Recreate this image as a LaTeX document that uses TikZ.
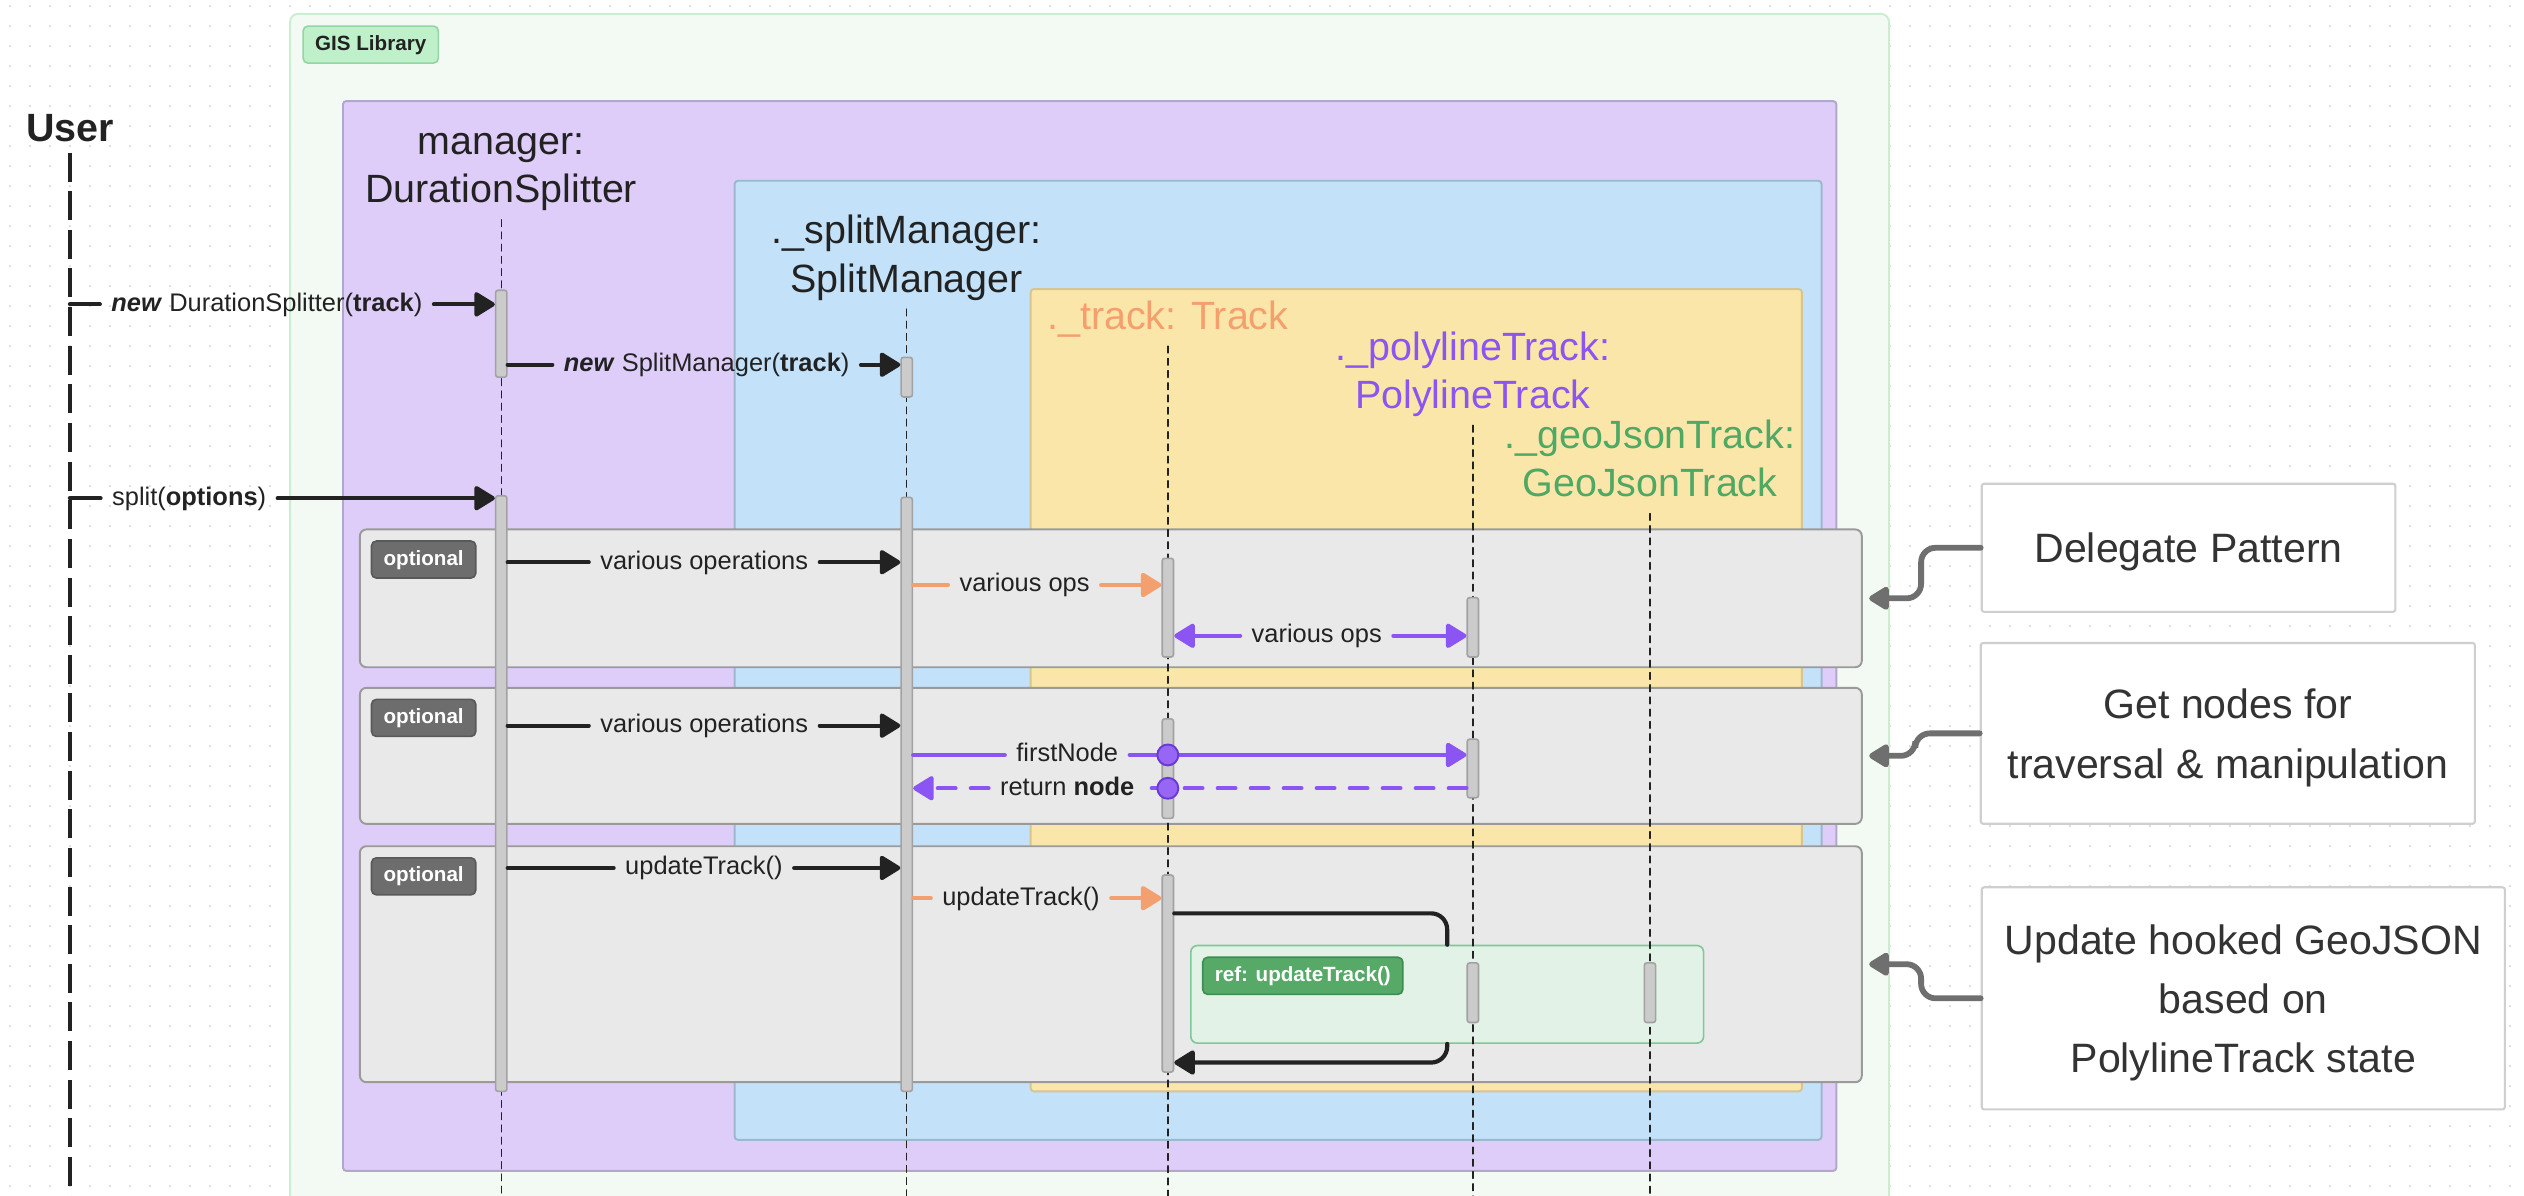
\documentclass[tikz,border=0pt]{standalone}
\usepackage{fontspec}
\setmainfont{Liberation Sans}
\usetikzlibrary{arrows.meta,positioning,patterns.meta}

\definecolor{ink}{HTML}{222222}
\definecolor{dotgray}{HTML}{CFCFCF}
\definecolor{gisfill}{HTML}{F3FAF3}
\definecolor{gisline}{HTML}{CBEED3}
\definecolor{gistag}{HTML}{BEF0CA}
\definecolor{gistagline}{HTML}{92D6A3}
\definecolor{mgrfill}{HTML}{DFCDF9}
\definecolor{mgrline}{HTML}{B3A6CB}
\definecolor{splfill}{HTML}{C3E2F9}
\definecolor{splline}{HTML}{9DB7CC}
\definecolor{trkfill}{HTML}{FBE6A9}
\definecolor{trkline}{HTML}{D6C590}
\definecolor{optfill}{HTML}{E9E9E9}
\definecolor{optline}{HTML}{9A9A9A}
\definecolor{opttag}{HTML}{6D6D6D}
\definecolor{opttagline}{HTML}{595959}
\definecolor{actfill}{HTML}{CBCBCB}
\definecolor{actline}{HTML}{A2A2A2}
\definecolor{orng}{HTML}{F4A06E}
\definecolor{polyc}{HTML}{8B55F3}
\definecolor{polydark}{HTML}{6A3AD6}
\definecolor{geoc}{HTML}{4FA864}
\definecolor{reffill}{HTML}{E2F2E6}
\definecolor{refline}{HTML}{7FC897}
\definecolor{reftag}{HTML}{56A967}
\definecolor{reftagline}{HTML}{3E8C50}
\definecolor{notetext}{HTML}{333333}
\definecolor{noteline}{HTML}{CFCFCF}
\definecolor{hookc}{HTML}{6F6F6F}

\tikzdeclarepattern{
  name=dotgrid,
  type=colored,
  bounding box={(0pt,0pt) and (12.35pt,12.35pt)},
  tile size={(12.35pt,12.35pt)},
  code={\fill[dotgray] (6.2pt,6.2pt) circle (0.65pt);}
}

\newcommand{\notetop}{\rule{0pt}{24pt}}

\begin{document}
\begin{tikzpicture}[x=1pt,y=-1pt,line cap=round,
                    >={Triangle[length=14pt,width=16.5pt,round]},
  box/.style={line width=1.2pt,rounded corners=2pt},
  title/.style={font=\fontsize{24.5}{30}\selectfont,align=center,text=ink},
  msg/.style={font=\fontsize{15.8}{19}\selectfont,text=ink,inner xsep=7pt,
              inner ysep=0pt,text height=12pt,text depth=3.5pt},
  tagbox/.style={font=\bfseries\fontsize{12.8}{15}\selectfont,text=white,
                 rounded corners=3pt,line width=1pt,minimum height=23pt,
                 inner xsep=7.5pt,text height=9.5pt,text depth=2.7pt},
  optframe/.style={draw=optline,fill=optfill,line width=1.2pt,rounded corners=4pt,
                   anchor=north west,inner sep=0pt,minimum width=933pt},
  life/.style={ink,line width=0.9pt,dash pattern=on 4.2pt off 3.4pt},
  act/.style={draw=actline,fill=actfill,line width=1pt,rounded corners=1.5pt,
              minimum width=7pt,inner sep=0pt},
  msgline/.style={ink,line width=2.6pt},
  call/.style={msgline,->},
  oline/.style={orng,line width=2.6pt},
  ocall/.style={oline,->},
  pline/.style={polyc,line width=2.6pt},
  pcall/.style={pline,->},
  pdash/.style={dash pattern=on 11pt off 9.5pt},
  pmark/.style={circle,fill=polyc!90!white,draw=polydark,line width=1.2pt,
                minimum size=13pt,inner sep=0pt},
  note/.style={draw=noteline,fill=white,line width=1.3pt,rounded corners=1.5pt,
               font=\fontsize{25.5}{36.8}\selectfont,text=notetext,align=center},
  hookline/.style={draw=hookc,line width=3.6pt,rounded corners=9pt,
                   -{Triangle[length=14pt,width=16pt,round]}}]

  \useasboundingbox (0,0) rectangle (1568,743);
  \fill[pattern=dotgrid] (0,0) rectangle (1568,743);

  \coordinate (gisNW) at (180.2,8.6);
  \draw[box,fill=gisfill,draw=gisline,rounded corners=5pt] (gisNW) rectangle (1173.5,760);
  \draw[box,fill=mgrfill,draw=mgrline] (213.1,62.8) rectangle (1140.8,727.4);
  \draw[box,fill=splfill,draw=splline] (456.4,112.3) rectangle (1131.6,708.1);
  \draw[box,fill=trkfill,draw=trkline] (640.3,179.6) rectangle (1119.4,678);

  \coordinate (bottom) at (0,745);
  \node[font=\bfseries\fontsize{24.5}{30}\selectfont,text=ink] (user) at (43.4,79.3) {User};
  \node[title]            (mgrT) at (311.4,105)  {manager:\strut\\DurationSplitter\strut};
  \node[title]            (splT) at (563.3,160.5) {.\_splitManager:\strut\\SplitManager\strut};
  \node[title,text=orng]  (trkT) at (725.5,198.5) {.\_track: Track\strut};
  \node[title,text=polyc] (polT) at (915,232.7)  {.\_polylineTrack:\strut\\PolylineTrack\strut};
  \node[title,text=geoc]  (geoT) at (1025,287.5) {.\_geoJsonTrack:\strut\\GeoJsonTrack\strut};

  \node[optframe,minimum height=85.6pt]  (f1) at (223,328.3) {};
  \node[optframe,minimum height=84.5pt]  (f2) at (223,426.7) {};
  \node[optframe,minimum height=146.6pt] (f3) at (223,525.1) {};
  \node[draw=refline,fill=reffill,line width=1pt,rounded corners=4pt,anchor=north west,
        inner sep=0pt,minimum width=318.5pt,minimum height=60.6pt] (ref) at (739.3,586.9) {};

  \draw[ink,line width=2.6pt,dash pattern=on 18pt off 6pt,line cap=butt]
        ([yshift=-3.4pt]user.south) -- (user.south |- bottom);
  \draw[life] ([yshift=2pt]mgrT.south) -- (mgrT.south |- bottom);
  \draw[life] ([yshift=2pt]splT.south) -- (splT.south |- bottom);
  \draw[life] ([yshift=2pt]trkT.south) -- (trkT.south |- bottom);
  \draw[life] ([yshift=2pt]polT.south) -- (polT.south |- bottom);
  \draw[life] ([yshift=2pt]geoT.south) -- (geoT.south |- bottom);

  \node[tagbox,fill=gistag,draw=gistagline,text=ink,below right=7.1pt and 7.6pt of gisNW] (gis) {GIS Library};
  \node[tagbox,fill=opttag,draw=opttagline,below right=7.3pt and 7.3pt of f1.north west] (o1) {optional};
  \node[tagbox,fill=opttag,draw=opttagline,below right=7.3pt and 7.3pt of f2.north west] (o2) {optional};
  \node[tagbox,fill=opttag,draw=opttagline,below right=7.3pt and 7.3pt of f3.north west] (o3) {optional};
  \node[tagbox,fill=reftag,draw=reftagline,below right=7.3pt and 7.4pt of ref.north west] (rt) {ref: updateTrack()};

  \node[act,minimum height=54pt]    (m1) at (311.4,207.3) {};
  \node[act,minimum height=24.6pt]  (s1) at (563.3,234.3) {};
  \node[act,minimum height=370pt]   (m2) at (311.4,493)   {};
  \node[act,minimum height=369pt]   (s2) at (563.3,493.5) {};
  \node[act,minimum height=61.3pt]  (t1) at (725.5,377.5) {};
  \node[act,minimum height=36.9pt]  (p1) at (915,389.7)   {};
  \node[act,minimum height=61.8pt]  (t2) at (725.5,477.5) {};
  \node[act,minimum height=36.4pt]  (p2) at (915,477.4)   {};
  \node[act,minimum height=122.4pt] (t3) at (725.5,604.8) {};
  \node[act,minimum height=37pt]    (p3) at (915,616.7)   {};
  \node[act,minimum height=37pt]    (g1) at (1025,616.7)  {};

  \coordinate (u1) at (43.4,189.1);
  \coordinate (u2) at (43.4,309.5);
  \node[msg] (l1)  at (165.8,189.1) {\textbf{\textit{new}} DurationSplitter(\textbf{track})};
  \node[msg] (l2)  at (439,226.6)   {\textbf{\textit{new}} SplitManager(\textbf{track})};
  \node[msg] (l3)  at (117.5,309.5) {split(\textbf{options})};
  \node[msg] (l4)  at (437.5,349.3) {various operations};
  \node[msg] (l5)  at (636.5,363.4) {various ops};
  \node[msg] (l6)  at (818,395)     {various ops};
  \node[msg] (l7)  at (437.5,450.8) {various operations};
  \node[msg] (l8)  at (663,469)     {firstNode};
  \node[msg] (l9)  at (663,489.7)   {return \textbf{node}};
  \node[msg] (l10) at (437.3,539.2) {updateTrack()};
  \node[msg] (l11) at (634.3,558)   {updateTrack()};

  \path (u1)            edge[msgline]    (l1)
        (l1)            edge[call]       (m1.west |- l1)
        (m1.east |- l2) edge[msgline]    (l2)
        (l2)            edge[call]       (s1.west |- l2)
        (u2)            edge[msgline]    (l3)
        (l3)            edge[call]       (m2.west |- l3)
        (m2.east |- l4) edge[msgline]    (l4)
        (l4)            edge[call]       (s2.west |- l4)
        (s2.east |- l5) edge[oline]      (l5)
        (l5)            edge[ocall]      (t1.west |- l5)
        (l6)            edge[pcall]      (t1.east |- l6)
        (l6)            edge[pcall]      (p1.west |- l6)
        (m2.east |- l7) edge[msgline]    (l7)
        (l7)            edge[call]       (s2.west |- l7)
        (s2.east |- l8) edge[pline]      (l8)
        (l8)            edge[pcall]      (p2.west |- l8)
        (p2.west |- l9) edge[pline,pdash] (l9)
        (l9)            edge[pcall,pdash] (s2.east |- l9)
        (m2.east |- l10) edge[msgline]   (l10)
        (l10)           edge[call]       (s2.west |- l10)
        (s2.east |- l11) edge[oline]     (l11)
        (l11)           edge[ocall]      (t3.west |- l11);

  \node[pmark] (c1) at (t2 |- l8) {};
  \node[pmark] (c2) at (t2 |- l9) {};

  \draw[msgline,rounded corners=10pt] ([yshift=37.4pt]t3.east) -| (ref.north);
  \draw[call,rounded corners=10pt] (ref.south) |- ([yshift=-55.3pt]t3.east);

  \node[note,minimum width=257pt,minimum height=79.6pt] (n1) at (1359.6,340.3)
        {\notetop Delegate Pattern};
  \node[note,minimum width=307pt,minimum height=112.3pt] (n2) at (1384,455.6)
        {\notetop Get nodes for\\traversal \& manipulation};
  \node[note,minimum width=325pt,minimum height=138pt] (n3) at (1393.6,620.2)
        {\notetop Update hooked GeoJSON\\based on\\PolylineTrack state};

  \draw[hookline] (n1.west) -- ++(-37,0) |- ([xshift=4pt]f1.east);
  \draw[hookline] (n2.west) -- ++(-40,0) |- ([xshift=4pt]f2.east);
  \draw[hookline] (n3.west) -- ++(-37,0) |- ([xshift=4pt]f3.east);
\end{tikzpicture}
\end{document}
